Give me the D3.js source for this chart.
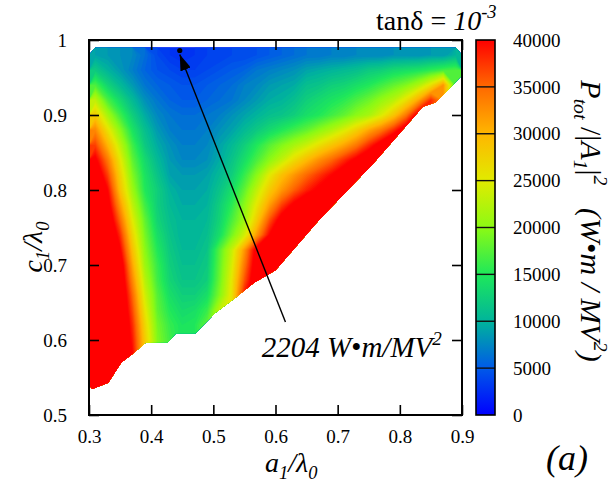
<!DOCTYPE html>
<html>
<head>
<meta charset="utf-8">
<script src="https://cdn.jsdelivr.net/npm/d3@7"></script>
<style>
  body { margin: 0; background: #fff; }
</style>
</head>
<body>
<div id="chart"></div>
<script>
// grid of a1/λ0 cell centres (columns) and c1/λ0 cell centres (rows, top to bottom)
const aCols = [0.31, 0.33, 0.35, 0.37, 0.39, 0.41, 0.43, 0.45, 0.47, 0.49,
               0.51, 0.53, 0.55, 0.57, 0.59, 0.61, 0.63, 0.65, 0.67, 0.69,
               0.71, 0.73, 0.75, 0.77, 0.79, 0.81, 0.83, 0.85, 0.87, 0.89];
const cRows = [0.98, 0.96, 0.94, 0.92, 0.90, 0.88, 0.86, 0.84, 0.82, 0.80, 0.78, 0.76,
               0.74, 0.72, 0.70, 0.68, 0.66, 0.64, 0.62, 0.60, 0.58, 0.56, 0.54];

// P_tot/|A1|^2 in units of 1000 W·m/MV^2, null = outside the computed region
const _ = null;
const pRows = [
  [9, 8.5, 8, 7.5, 6, 4, 3, 2.5, 3, 3.5, 3.5, 4, 4, 4.5, 5, 5.5, 6, 6.5, 6.5, 7, 7, 7.5, 7.5, 7.5, 8, 8, 8, 8.5, 8.5, 10],
  [12, 10, 8.5, 7, 5.5, 4.5, 4, 3.5, 3.5, 4, 4.5, 5, 5.5, 6.5, 7, 7.5, 8, 9, 9.5, 10, 10.5, 11, 12, 12.5, 13.5, 14, 14.5, 15.5, 16.5, 17],
  [17, 13, 10.5, 8.5, 6.5, 5.5, 5, 4.5, 4.5, 5, 5.5, 6, 7, 7.5, 8.5, 9, 9.5, 11, 11.5, 12.5, 13, 14, 15, 16.5, 18, 19.5, 22, 26, 32, _],
  [23, 17, 13.5, 10.5, 8, 6.5, 5.5, 5, 5, 5.5, 6, 6.5, 7.5, 8.5, 9.5, 10, 11, 12.5, 13.5, 14.5, 15.5, 17, 18.5, 20.5, 22.5, 26, 31, 38, _, _],
  [28, 21.5, 16.5, 12.5, 9.5, 7.5, 6.5, 6, 6, 6.5, 7, 8, 9, 10, 11, 11.5, 12.5, 14, 15, 16.5, 18, 20, 21.5, 24.5, 28.5, 34, 42, _, _, _],
  [33, 26, 20, 14.5, 11, 8.5, 7, 6.5, 6.5, 7, 8, 9, 10.5, 12, 13.5, 15, 16.5, 18, 20, 22, 24.5, 27.5, 31, 34, 38, 43, _, _, _, _],
  [37, 30, 23, 16.5, 12, 9.5, 8, 7, 7, 7.5, 9, 10.5, 12.5, 15, 17.5, 19.5, 21.5, 23.5, 26, 28.5, 31, 34, 38, 42, 46, _, _, _, _, _],
  [41, 34, 25.5, 18, 13.5, 10.5, 8.5, 7.5, 7.5, 8, 9.5, 11.5, 14, 17, 20, 23, 26.5, 29.5, 32.5, 35, 38, 41, 44, 47, _, _, _, _, _, _],
  [44, 37, 27.5, 19.5, 14.5, 11.5, 9, 8.5, 8.5, 9, 10.5, 12.5, 16, 20, 25, 29, 32, 35, 37.5, 40, 43, 46, 49, _, _, _, _, _, _, _],
  [47, 40, 29, 21, 15, 12.5, 10, 9, 9, 9.5, 11.5, 14, 18, 23, 28, 32, 35.5, 38.5, 41, 44, 47, _, _, _, _, _, _, _, _, _],
  [50, 42, 32, 23, 16.5, 12.5, 10.5, 9.5, 9.5, 10, 12.5, 15.5, 20, 25.5, 31.5, 37, 41, 44, 47, 50, _, _, _, _, _, _, _, _, _, _],
  [52, 44, 35, 25, 18, 13, 11, 10, 10, 10.5, 13, 17, 21, 28, 36, 42, 46, 49, 52, _, _, _, _, _, _, _, _, _, _, _],
  [54, 46, 38, 27, 19, 14, 11.5, 10, 10, 11, 14, 19, 24, 32, 40, 45, 49, 52, _, _, _, _, _, _, _, _, _, _, _, _],
  [56, 48, 40.5, 29, 20, 15, 12, 10.5, 10.5, 11.5, 17.5, 23.5, 32, 42, 46, 50, 53, _, _, _, _, _, _, _, _, _, _, _, _, _],
  [58, 50, 43, 31, 21, 16, 12.5, 11, 11, 12, 18, 24.5, 34, 43, 48, 52, _, _, _, _, _, _, _, _, _, _, _, _, _, _],
  [59, 51, 44, 33, 22.5, 16.5, 13, 11.5, 11.5, 12.5, 18.5, 25.5, 36, 44, _, _, _, _, _, _, _, _, _, _, _, _, _, _, _, _],
  [60, 52, 45, 35, 24, 17.5, 14, 12.5, 12.5, 14, 19.5, 26, 39, _, _, _, _, _, _, _, _, _, _, _, _, _, _, _, _, _],
  [60, 53, 45.5, 36.5, 25.5, 18, 15, 13.5, 14, 16, 23, _, _, _, _, _, _, _, _, _, _, _, _, _, _, _, _, _, _, _],
  [60, 54, 46, 38, 27, 19, 16, 14.5, 15, 18, _, _, _, _, _, _, _, _, _, _, _, _, _, _, _, _, _, _, _, _],
  [60, 55, 46, 39, 28, 19.5, 16.5, _, _, _, _, _, _, _, _, _, _, _, _, _, _, _, _, _, _, _, _, _, _, _],
  [60, 56, 47, 40, _, _, _, _, _, _, _, _, _, _, _, _, _, _, _, _, _, _, _, _, _, _, _, _, _, _],
  [60, 57, _, _, _, _, _, _, _, _, _, _, _, _, _, _, _, _, _, _, _, _, _, _, _, _, _, _, _, _],
  [60, _, _, _, _, _, _, _, _, _, _, _, _, _, _, _, _, _, _, _, _, _, _, _, _, _, _, _, _, _]
];

// lower edge of the computed region (left to right)
const edgeA = [0.30, 0.331, 0.352, 0.368, 0.392, 0.427, 0.44, 0.471, 0.484, 0.503, 0.535, 0.565, 0.60, 0.67, 0.758, 0.837, 0.858, 0.90];
const edgeC = [0.533, 0.543, 0.57, 0.58, 0.597, 0.597, 0.609, 0.609, 0.62, 0.636, 0.656, 0.676, 0.693, 0.76, 0.836, 0.911, 0.917, 0.953];

const aTicks = [0.3, 0.4, 0.5, 0.6, 0.7, 0.8, 0.9];
const cTicks = [0.5, 0.6, 0.7, 0.8, 0.9, 1];
const colorTicks = [0, 5000, 10000, 15000, 20000, 25000, 30000, 35000, 40000];
const colorStops = ["#0000ff", "#005ae8", "#00b49b", "#1ee85a", "#8cfa14", "#e1eb00", "#ffb600", "#ff6900", "#ff0000"];

// marked minimum and its label
const minPoint = {a: 0.446, c: 0.986, p: 2204};
const arrowTail = {a: 0.616, c: 0.624};
const labelPos = {a: 0.578, c: 0.577};

const serif = "Liberation Serif";
const W = 614, H = 483;

const svg = d3.select("#chart").append("svg")
    .attr("width", W)
    .attr("height", H)
    .attr("font-family", serif);

const x = d3.scaleLinear().domain([0.3, 0.9]).range([89, 462]);
const y = d3.scaleLinear().domain([0.5, 1.0]).range([415, 40]);
const color = d3.scaleLinear().domain(colorTicks).range(colorStops).clamp(true);

// heat map -----------------------------------------------------------
const nA = aCols.length, nC = cRows.length;
const halfA = (aCols[1] - aCols[0]) / 2, halfC = (cRows[0] - cRows[1]) / 2;
const grid = [];
cRows.forEach((c, j) => pRows[j].forEach((v, i) => { grid[j * nA + i] = v; }));
// cells under the edge get the value above them; the clip hides them
for (let i = 0; i < nA; i++) {
    for (let j = 1; j < nC; j++) {
        if (grid[j * nA + i] == null) grid[j * nA + i] = grid[(j - 1) * nA + i];
    }
}

const gx = d3.scaleLinear().domain([0, nA]).range([aCols[0] - halfA, aCols[nA - 1] + halfA]);
const gy = d3.scaleLinear().domain([0, nC]).range([cRows[0] + halfC, cRows[nC - 1] - halfC]);
const proj = d3.geoTransform({
    point: function (px, py) { this.stream.point(x(gx(px)), y(gy(py))); }
});
const path = d3.geoPath(proj);

const thresholds = d3.range(0, 40.01, 0.5);
const bands = d3.contours().size([nA, nC]).thresholds(thresholds)(grid);

// clip to the computed region
const topC = cRows[0] + halfC;
const clipPts = [[edgeA[0], topC], [edgeA[edgeA.length - 1], topC]];
for (let k = edgeA.length - 1; k >= 0; k--) clipPts.push([edgeA[k], edgeC[k]]);
svg.append("clipPath").attr("id", "region")
  .append("path")
    .attr("d", d3.line().x(d => x(d[0])).y(d => y(d[1]))(clipPts) + "Z");

svg.append("g")
    .attr("clip-path", "url(#region)")
  .selectAll("path")
  .data(bands)
  .enter().append("path")
    .attr("d", path)
    .attr("fill", d => color(d.value * 1000 + 250));

// axes -----------------------------------------------------------------
function styleAxis(g) {
    g.select(".domain").remove();
    g.selectAll(".tick line").attr("stroke", "#000").attr("stroke-width", 1.6);
    g.attr("font-family", serif).attr("font-size", 19);
}

svg.append("g").attr("transform", "translate(0,415)")
    .call(d3.axisBottom(x).tickValues(aTicks).tickSize(-10).tickPadding(15).tickFormat(d3.format(".1f")))
    .call(styleAxis);
svg.append("g").attr("transform", "translate(0,40)")
    .call(d3.axisTop(x).tickValues(aTicks).tickSize(-10).tickFormat(""))
    .call(styleAxis);
svg.append("g").attr("transform", "translate(89,0)")
    .call(d3.axisLeft(y).tickValues(cTicks).tickSize(-10).tickPadding(22)
        .tickFormat(d => d === 1 ? "1" : d.toFixed(1)))
    .call(styleAxis);
svg.append("g").attr("transform", "translate(462,0)")
    .call(d3.axisRight(y).tickValues(cTicks).tickSize(-10).tickFormat(""))
    .call(styleAxis);

svg.append("rect")
    .attr("x", x(0.3)).attr("y", y(1))
    .attr("width", x(0.9) - x(0.3)).attr("height", y(0.5) - y(1))
    .attr("fill", "none").attr("stroke", "#000").attr("stroke-width", 2);

// rich text helper: parts with sub / sup / upright flags
function rich(sel, parts, size) {
    let shift = 0;
    sel.attr("font-family", serif);
    parts.forEach(p => {
        const target = p.sub ? 0.25 * size : p.sup ? -0.42 * size : 0;
        sel.append("tspan")
            .attr("dy", target - shift)
            .attr("font-size", p.sub || p.sup ? size * 0.66 : size)
            .attr("font-style", p.up ? "normal" : "italic")
            .text(p.t);
        shift = target;
    });
}

// axis titles
rich(svg.append("text").attr("x", 265).attr("y", 472).style("white-space", "pre"),
    [{t: "a"}, {t: "1", sub: true}, {t: "/λ"}, {t: "0", sub: true}], 28);

rich(svg.append("text")
        .attr("transform", "translate(42,247) rotate(-90)")
        .attr("text-anchor", "middle"),
    [{t: "c"}, {t: "1", sub: true}, {t: "/λ"}, {t: "0", sub: true}], 28);

// title
rich(svg.append("text").attr("x", 376).attr("y", 30).style("white-space", "pre"),
    [{t: "tanδ = ", up: true}, {t: "10"}, {t: "-3", sup: true}], 28);

// minimum marker and arrow -------------------------------------------
svg.append("defs").append("marker")
    .attr("id", "head")
    .attr("viewBox", "0 0 16 11")
    .attr("refX", 16).attr("refY", 5.5)
    .attr("markerWidth", 16).attr("markerHeight", 11)
    .attr("markerUnits", "userSpaceOnUse")
    .attr("orient", "auto")
  .append("path")
    .attr("d", "M0,0 L16,5.5 L0,11 Z")
    .attr("fill", "#000");

const tipX = x(minPoint.a), tipY = y(minPoint.c) + 4;
svg.append("line")
    .attr("x1", x(arrowTail.a)).attr("y1", y(arrowTail.c))
    .attr("x2", tipX).attr("y2", tipY)
    .attr("stroke", "#000").attr("stroke-width", 1.4)
    .attr("marker-end", "url(#head)");

svg.append("circle")
    .attr("cx", x(minPoint.a)).attr("cy", y(minPoint.c))
    .attr("r", 2.6).attr("fill", "#000");

rich(svg.append("text").attr("x", x(labelPos.a)).attr("y", y(labelPos.c)).style("white-space", "pre"),
    [{t: minPoint.p + " W"}, {t: "•", up: true}, {t: "m/MV"}, {t: "2", sup: true}], 29);

// colour bar -----------------------------------------------------------
const cb = {x: 476, w: 19};
const cScale = d3.scaleLinear().domain([0, 40000]).range([415, 40]);

const grad = svg.select("defs").append("linearGradient")
    .attr("id", "cbgrad")
    .attr("x1", 0).attr("y1", 1).attr("x2", 0).attr("y2", 0);
colorTicks.forEach((v, i) => {
    grad.append("stop").attr("offset", v / 40000).attr("stop-color", colorStops[i]);
});

svg.append("rect")
    .attr("x", cb.x).attr("y", cScale(40000))
    .attr("width", cb.w).attr("height", cScale(0) - cScale(40000))
    .attr("fill", "url(#cbgrad)");

svg.append("g").selectAll("line")
    .data(colorTicks.slice(1, -1))
    .enter().append("line")
    .attr("x1", cb.x).attr("x2", cb.x + cb.w)
    .attr("y1", d => cScale(d)).attr("y2", d => cScale(d))
    .attr("stroke", "#111").attr("stroke-width", 1.4);

svg.append("rect")
    .attr("x", cb.x).attr("y", cScale(40000))
    .attr("width", cb.w).attr("height", cScale(0) - cScale(40000))
    .attr("fill", "none").attr("stroke", "#000").attr("stroke-width", 1.6);

svg.append("g").selectAll("text")
    .data(colorTicks)
    .enter().append("text")
    .attr("x", 513)
    .attr("y", d => cScale(d))
    .attr("dy", "0.35em")
    .attr("font-family", serif)
    .attr("font-size", 19)
    .text(d => d);

rich(svg.append("text")
        .attr("transform", "translate(581,221) rotate(90)")
        .attr("text-anchor", "middle")
        .style("white-space", "pre"),
    [{t: "P"}, {t: "tot", sub: true}, {t: " /|", up: true}, {t: "A"}, {t: "1", sub: true},
     {t: "|", up: true}, {t: "2", sup: true}, {t: "   (W"}, {t: "•", up: true},
     {t: "m / MV"}, {t: "2", sup: true}, {t: ")"}], 30);

// panel tag
svg.append("text")
    .attr("x", 546).attr("y", 470)
    .attr("font-family", serif)
    .attr("font-size", 36).attr("font-style", "italic")
    .text("(a)");
</script>
</body>
</html>
